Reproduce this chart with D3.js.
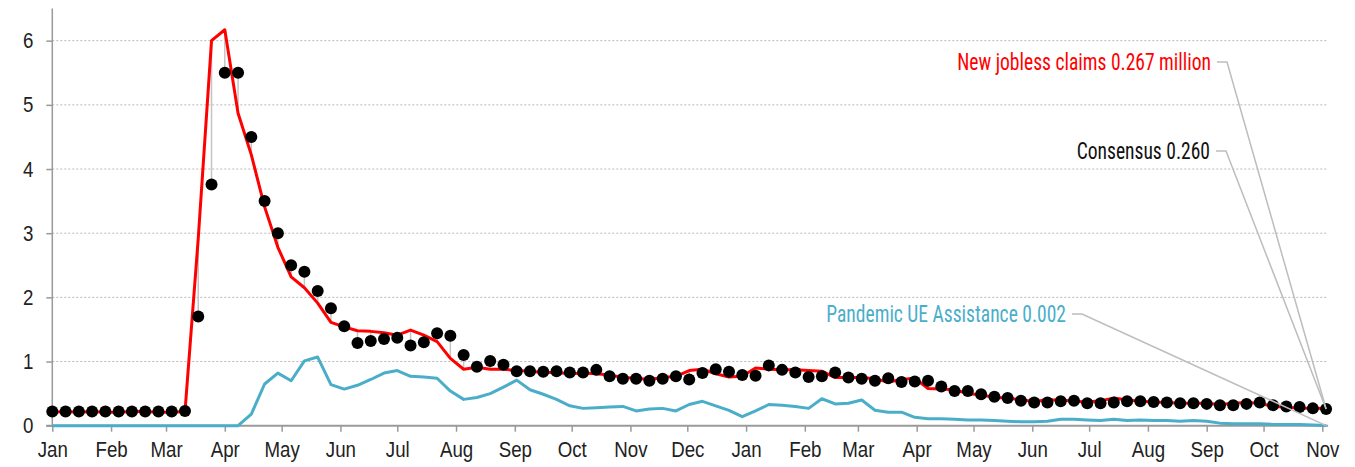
<!DOCTYPE html>
<html>
<head>
<meta charset="utf-8">
<script src="https://cdn.jsdelivr.net/npm/d3@7"></script>
<style>
  body { margin: 0; background: #fff; }
  svg { display: block; font-family: "Liberation Sans Narrow", "Roboto Condensed", Roboto, "DejaVu Sans Condensed", sans-serif; }
</style>
</head>
<body>
<div id="chart"></div>
<script>
// weekly observations, first week of Jan 2020 to first week of Nov 2021
const firstWeek = new Date(2020, 0, 1)
const weekCount = 97

// new jobless claims, millions
const claims = [
  0.21, 0.22, 0.21, 0.22, 0.21, 0.21, 0.22, 0.22, 0.21, 0.21, 0.22,
  2.92, 6.00, 6.17, 4.87, 4.22, 3.41, 2.78, 2.32, 2.15, 1.91, 1.61,
  1.54, 1.48, 1.47, 1.45, 1.41, 1.49, 1.41, 1.31, 1.05, 0.88, 0.91,
  0.88, 0.88, 0.86, 0.85, 0.83, 0.83, 0.81, 0.82, 0.81, 0.79, 0.75,
  0.74, 0.72, 0.75, 0.77, 0.86, 0.88, 0.81, 0.76, 0.77, 0.90, 0.88,
  0.87, 0.87, 0.86, 0.85, 0.75, 0.75, 0.75, 0.73, 0.68, 0.72, 0.74,
  0.58, 0.57, 0.56, 0.50, 0.48, 0.44, 0.43, 0.40, 0.38, 0.40, 0.40,
  0.38, 0.37, 0.39, 0.43, 0.40, 0.38, 0.37, 0.36, 0.35, 0.35, 0.35,
  0.33, 0.35, 0.36, 0.35, 0.30, 0.29, 0.27, 0.27, 0.267
]

// consensus forecast, millions
const consensus = [
  0.22, 0.22, 0.22, 0.22, 0.22, 0.22, 0.22, 0.22, 0.22, 0.22, 0.23,
  1.70, 3.76, 5.50, 5.50, 4.50, 3.50, 3.00, 2.50, 2.40, 2.10, 1.83,
  1.55, 1.29, 1.32, 1.35, 1.37, 1.25, 1.30, 1.44, 1.40, 1.10, 0.92,
  1.01, 0.95, 0.85, 0.85, 0.84, 0.85, 0.83, 0.83, 0.87, 0.77, 0.73,
  0.73, 0.70, 0.73, 0.77, 0.72, 0.82, 0.88, 0.84, 0.79, 0.78, 0.94,
  0.87, 0.83, 0.76, 0.77, 0.83, 0.75, 0.73, 0.70, 0.74, 0.68, 0.69,
  0.70, 0.61, 0.54, 0.54, 0.49, 0.45, 0.43, 0.39, 0.36, 0.36, 0.38,
  0.39, 0.35, 0.35, 0.36, 0.38, 0.38, 0.37, 0.36, 0.35, 0.35, 0.34,
  0.32, 0.32, 0.34, 0.36, 0.32, 0.30, 0.29, 0.27, 0.26
]

// pandemic unemployment assistance claims, millions
const pua = [
  0, 0, 0, 0, 0, 0, 0, 0, 0, 0, 0,
  0, 0, 0, 0, 0.18, 0.65, 0.82, 0.70, 1.01, 1.07, 0.64,
  0.57, 0.63, 0.72, 0.82, 0.86, 0.77, 0.76, 0.74, 0.54, 0.41, 0.44,
  0.50, 0.60, 0.71, 0.56, 0.49, 0.41, 0.31, 0.27, 0.28, 0.29, 0.30,
  0.23, 0.26, 0.27, 0.23, 0.33, 0.38, 0.31, 0.24, 0.14, 0.23, 0.33,
  0.32, 0.30, 0.27, 0.42, 0.34, 0.35, 0.40, 0.24, 0.21, 0.21, 0.13,
  0.11, 0.11, 0.10, 0.09, 0.09, 0.08, 0.07, 0.06, 0.06, 0.07, 0.10,
  0.10, 0.09, 0.08, 0.10, 0.08, 0.09, 0.08, 0.08, 0.07, 0.08, 0.07,
  0.04, 0.03, 0.03, 0.03, 0.02, 0.02, 0.02, 0.01, 0.002
]

const yTicks = [0, 1, 2, 3, 4, 5, 6]

const labels = [
  { text: "New jobless claims 0.267 million", color: "#ff0000", series: "consensus", right: 1211, y: 62 },
  { text: "Consensus 0.260", color: "#111111", series: "consensus", right: 1210, y: 151 },
  { text: "Pandemic UE Assistance 0.002", color: "#4aaec9", series: "pua", right: 1066, y: 314 }
]

const width = 1355
const height = 467
const left = 52.3
const right = 1326.1
const bottom = 425.7
const squeeze = 0.85 // the original type is a condensed face

const weeks = d3.range(weekCount).map((i) => d3.timeWeek.offset(firstWeek, i))
const rows = weeks.map((w, i) => ({ date: w, claims: claims[i], consensus: consensus[i], pua: pua[i] }))

const x = d3.scaleTime()
  .domain([weeks[0], weeks[weeks.length - 1]])
  .range([left, right])

const y = d3.scaleLinear()
  .domain([0, 6.5])
  .range([bottom, bottom - 6.5 * 64.17])

const svg = d3.select("#chart").append("svg")
  .attr("width", width)
  .attr("height", height)

// gridlines
svg.append("g")
  .selectAll("line")
  .data(yTicks.filter((t) => t > 0))
  .enter()
  .append("line")
  .attr("x1", left)
  .attr("x2", right + 2)
  .attr("y1", (d) => y(d))
  .attr("y2", (d) => y(d))
  .attr("stroke", "#b8b8b8")
  .attr("stroke-width", 1)
  .attr("stroke-dasharray", "2,2")

// y axis
const yAxis = svg.append("g")
  .attr("transform", `translate(${left}, 0)`)
  .call(d3.axisLeft(y).tickValues(yTicks).tickSize(6).tickPadding(13).tickFormat(d3.format("d")))
yAxis.select(".domain").remove()
yAxis.append("line")
  .attr("x1", 0).attr("x2", 0)
  .attr("y1", y(6.5)).attr("y2", bottom)
  .attr("stroke", "#9a9a9a")
  .attr("stroke-width", 1.5)
yAxis.selectAll(".tick line").attr("stroke", "#9a9a9a").attr("stroke-width", 1.5)
yAxis.selectAll(".tick text")
  .attr("font-size", 22)
  .attr("font-family", null)
  .attr("fill", "#222")
  .attr("x", -19 / squeeze)
  .attr("transform", `scale(${squeeze},1)`)

// x axis
const xAxis = svg.append("g")
  .attr("transform", `translate(0, ${bottom})`)
  .call(d3.axisBottom(x).ticks(d3.timeMonth.every(1)).tickFormat(d3.timeFormat("%b")).tickSize(6).tickPadding(10))
xAxis.select(".domain").remove()
xAxis.append("line")
  .attr("x1", left - 6).attr("x2", right + 2)
  .attr("stroke", "#9a9a9a")
  .attr("stroke-width", 2)
xAxis.selectAll(".tick line").attr("stroke", "#9a9a9a").attr("stroke-width", 1.5)
xAxis.selectAll(".tick text")
  .attr("font-size", 22)
  .attr("font-family", null)
  .attr("fill", "#222")
  .attr("transform", `scale(${squeeze},1)`)

// stems between consensus and actual
svg.append("g")
  .selectAll("line")
  .data(rows)
  .enter()
  .append("line")
  .attr("x1", (d) => x(d.date))
  .attr("x2", (d) => x(d.date))
  .attr("y1", (d) => y(d.consensus))
  .attr("y2", (d) => y(d.claims))
  .attr("stroke", "#c4c4c4")
  .attr("stroke-width", 1.5)

const puaLine = d3.line()
  .x((d) => x(d.date))
  .y((d) => y(d.pua))
svg.append("path")
  .attr("fill", "none")
  .attr("stroke", "#4aaec9")
  .attr("stroke-width", 3)
  .attr("stroke-linejoin", "round")
  .attr("d", puaLine(rows))

const claimsLine = d3.line()
  .x((d) => x(d.date))
  .y((d) => y(d.claims))
svg.append("path")
  .attr("fill", "none")
  .attr("stroke", "#ff0000")
  .attr("stroke-width", 3)
  .attr("stroke-linejoin", "round")
  .attr("d", claimsLine(rows))

svg.append("g")
  .selectAll("circle")
  .data(rows)
  .enter()
  .append("circle")
  .attr("cx", (d) => x(d.date))
  .attr("cy", (d) => y(d.consensus))
  .attr("r", 6)
  .attr("fill", "#000")

// end labels with leader lines
const last = rows[rows.length - 1]
labels.forEach((l) => {
  const endY = y(last[l.series])
  svg.append("polyline")
    .attr("points", `${l.right + 6},${l.y} ${l.right + 16},${l.y} ${x(last.date)},${endY}`)
    .attr("fill", "none")
    .attr("stroke", "#bdbdbd")
    .attr("stroke-width", 1.5)
  svg.append("g")
    .attr("transform", `translate(${l.right}, ${l.y}) scale(${squeeze},1)`)
    .append("text")
    .attr("dy", "0.35em")
    .attr("text-anchor", "end")
    .attr("font-size", 23)
    .attr("fill", l.color)
    .text(l.text)
})
</script>
</body>
</html>
